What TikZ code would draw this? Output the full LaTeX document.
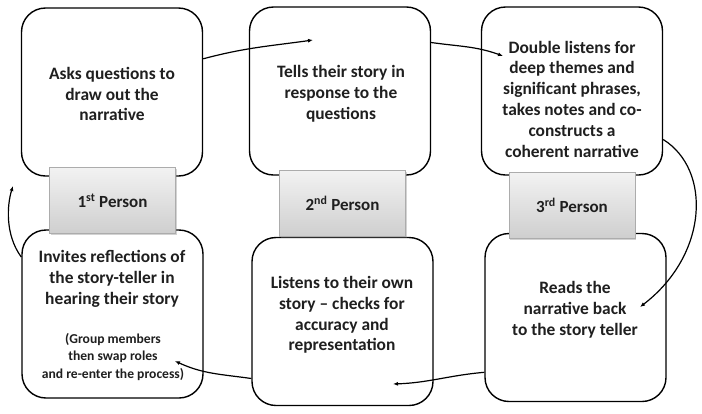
\documentclass[tikz,border=0pt]{standalone}
\usepackage{fontspec}
\setmainfont{Carlito}
\usetikzlibrary{shadows,arrows.meta}

\tikzset{
  bigbox/.style={draw, line width=1.4pt, rounded corners=24pt, fill=white,
    minimum width=181pt, minimum height=168pt},
  txt/.style={align=center, text=black!88, font=\bfseries\fontsize{17.4}{20.8}\selectfont},
  smalltxt/.style={align=center, text=black!88, font=\bfseries\fontsize{13.6}{17.5}\selectfont},
  tagbox/.style={draw=gray!65, top color=gray!10, bottom color=gray!38,
    minimum width=126pt, minimum height=66pt,
    drop shadow={shadow xshift=1pt, shadow yshift=-1.5pt, opacity=.35},
    text=black!88, font=\bfseries\fontsize{17}{20}\selectfont},
  flow/.style={line width=1.2pt, -{Latex[length=5pt,width=4pt]}}
}

\begin{document}
\begin{tikzpicture}[x=1pt, y=-1pt]
  \useasboundingbox (0,0) rectangle (702,413);

  % top row
  \node[bigbox] (ask) at (112,92) {};
  \node[bigbox] (tell) at (340,91) {};
  \node[bigbox] (dbl) at (572,91) {};
  \node[txt] (askt) at (112,94) {Asks questions to\\draw out the\\narrative};
  \node[txt] (tellt) at (341,94) {Tells their story in\\response to the\\questions};
  \node[txt] (dblt) at (572,99) {Double listens for\\deep themes and\\significant phrases,\\takes notes and co-\\constructs a\\coherent narrative};

  % bottom row
  \node[bigbox] (invite) at (112.5,314) {};
  \node[bigbox] (own) at (342.5,321.5) {};
  \node[bigbox] (read) at (575.5,317.5) {};
  \node[txt] (invitet) at (112,279) {Invites reflections of\\the story-teller in\\hearing their story};
  \node[smalltxt] (swapt) at (113,357) {(Group members\\then swap roles\\and re-enter the process)};
  \node[txt] (ownt) at (342,315) {Listens to their own\\story -- checks for\\accuracy and\\representation};
  \node[txt] (readt) at (575,310) {Reads the\\narrative back\\to the story teller};

  % person tags
  \node[tagbox] (p1) at (112.5,200.5) {1\textsuperscript{st} Person};
  \node[tagbox] (p2) at (342.5,203.5) {2\textsuperscript{nd} Person};
  \node[tagbox] (p3) at (572,205.5) {3\textsuperscript{rd} Person};

  % arrow ends
  \coordinate (e1) at (313,40);
  \coordinate (e2) at (503,56);
  \coordinate (e3) at (640,307);
  \coordinate (e4) at (393,384);
  \coordinate (e5) at (175,361);
  \coordinate (e6) at (13,186);

  \draw[flow] (ask.20) to[out=15,in=188] (e1);
  \draw[flow] (tell.28) to[out=-8,in=160] (e2);
  \draw[flow] (dbl.-28) .. controls (712,170) and (708,255) .. (e3);
  \draw[flow] (read.211) to[out=185,in=2] (e4);
  \draw[flow] (own.212) to[out=172,in=-25] (e5);
  \draw[flow] (invite.148) .. controls (5,235) and (7,205) .. (e6);
\end{tikzpicture}
\end{document}
